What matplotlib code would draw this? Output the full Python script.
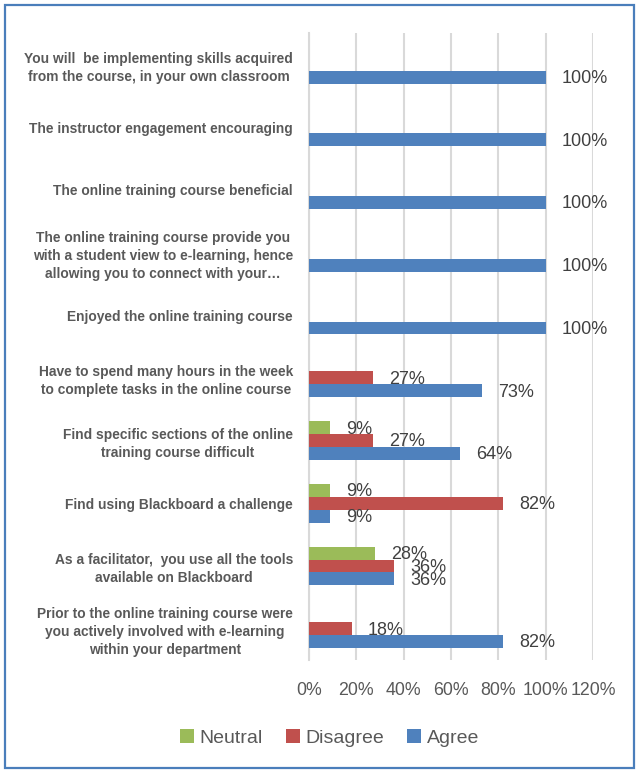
import numpy as np
import matplotlib
matplotlib.use('Agg')
import matplotlib.pyplot as plt
from matplotlib.patches import Rectangle
from matplotlib.ticker import FuncFormatter

# ---------------- 数据 ----------------
categories = [
    'You will  be implementing skills acquired\nfrom the course, in your own classroom',
    'The instructor engagement encouraging',
    'The online training course beneficial',
    'The online training course provide you\nwith a student view to e-learning, hence\nallowing you to connect with your\u2026',
    'Enjoyed the online training course',
    'Have to spend many hours in the week\nto complete tasks in the online course',
    'Find specific sections of the online\ntraining course difficult',
    'Find using Blackboard a challenge',
    'As a facilitator,  you use all the tools\navailable on Blackboard',
    'Prior to the online training course were\nyou actively involved with e-learning\nwithin your department',
]
agree = [100, 100, 100, 100, 100, 73, 64, 9, 36, 82]
disagree = [0, 0, 0, 0, 0, 27, 27, 82, 36, 18]
neutral = [0, 0, 0, 0, 0, 0, 9, 9, 28, 0]
xticks = [0, 20, 40, 60, 80, 100, 120]

c_agree = '#4F81BD'
c_disagree = '#C0504D'
c_neutral = '#9BBB59'
font = 'Liberation Sans'

fig = plt.figure(figsize=(6.4, 7.72), dpi=100)
ax = fig.add_axes([309 / 640, 1 - 660 / 772, 284 / 640, 627 / 772])

y = np.arange(len(categories))
h = 0.205
series = [(neutral, -h, c_neutral, 'Neutral'),
          (disagree, 0, c_disagree, 'Disagree'),
          (agree, h, c_agree, 'Agree')]
for vals, off, col, name in series:
    ax.barh(y + off, vals, height=h, color=col, label=name,
            linewidth=0, zorder=3)
    # 数据标签（0不显示）
    for yy, v in zip(y + off, vals):
        if v > 0:
            ax.annotate('{}%'.format(v), (v, yy), xytext=(11.5, -1),
                        textcoords='offset points', va='center', ha='left',
                        fontsize=13, color='#404040', family=font)

ax.set_ylim(len(categories) - 0.5, -0.5)
ax.set_xlim(0, 120)
ax.set_xticks(xticks)
ax.xaxis.set_major_formatter(FuncFormatter(lambda v, p: '{:d}%'.format(int(v))))
ax.set_yticks(y)
ax.set_yticklabels(categories, fontsize=9.9, fontweight='bold', color='#595959',
                   family=font, multialignment='center', linespacing=1.35)
ax.tick_params(axis='y', length=0, pad=11.5)
ax.tick_params(axis='x', length=0, pad=16, labelsize=12.8, labelcolor='#595959')
for label in ax.get_xticklabels():
    label.set_fontname(font)

# 网格线与坐标轴
ax.grid(axis='x', color='#D9D9D9', linewidth=1.5, zorder=0)
ax.set_axisbelow(True)
for spine in ['top', 'bottom', 'right']:
    ax.spines[spine].set_visible(False)
ax.spines['left'].set_color('#D9D9D9')
ax.spines['left'].set_linewidth(1.5)

# 图例
handles, labels = ax.get_legend_handles_labels()
fig.legend(handles, labels, loc='center', bbox_to_anchor=(0.515, 1 - 738 / 772),
           ncol=3, frameon=False, prop={'family': font, 'size': 14},
           handlelength=0.7, handleheight=0.7, handletextpad=0.3,
           columnspacing=1.2, labelcolor='#595959')

# 图表外框
fig.patches.append(Rectangle((5 / 640, 4 / 772), 629 / 640, 763 / 772,
                             transform=fig.transFigure, fill=False,
                             edgecolor='#4A7EBB', linewidth=1.6))

plt.savefig('out.png', dpi=100)
